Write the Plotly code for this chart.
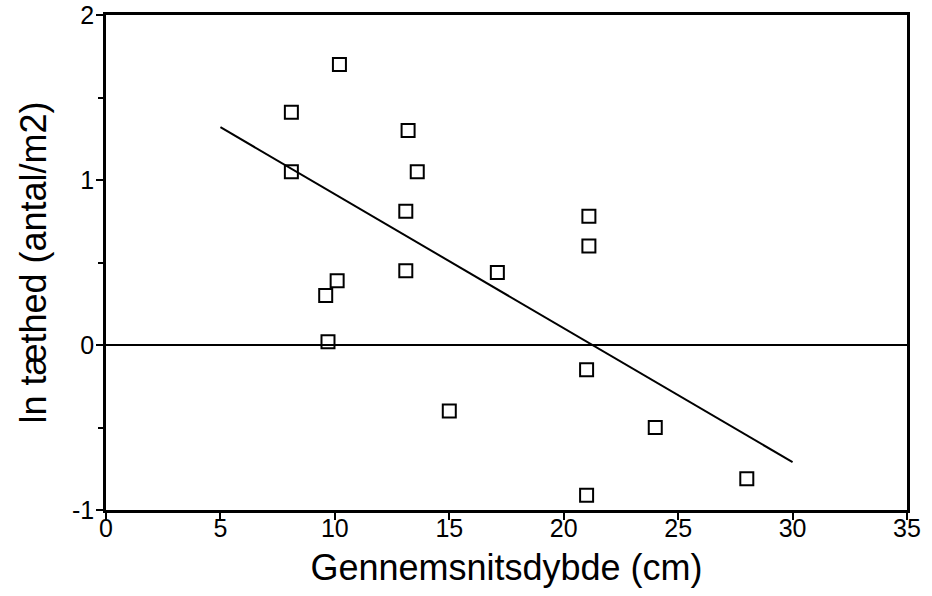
import plotly.graph_objects as go

# Målinger: gennemsnitsdybde (cm) og ln tæthed (antal/m2)
dybde = [10.2, 8.1, 8.1, 13.2, 13.6, 13.1, 13.1, 10.1, 9.6, 9.7,
         17.1, 21.1, 21.1, 21.0, 15.0, 21.0, 24.0, 28.0]
ln_taethed = [1.70, 1.41, 1.05, 1.30, 1.05, 0.81, 0.45, 0.39, 0.30, 0.02,
              0.44, 0.78, 0.60, -0.15, -0.40, -0.91, -0.50, -0.81]

# regressionslinje (endepunkter aflæst)
reg_x = [5, 30]
reg_y = [1.32, -0.71]

x_ticks = [0, 5, 10, 15, 20, 25, 30, 35]
y_ticks = [-1, 0, 1, 2]
y_ticktext = ["-1", "0", "1", "2"]

FONT = "Liberation Sans, Arial, Helvetica, sans-serif"

fig = go.Figure()
fig.add_trace(go.Scatter(
    x=reg_x, y=reg_y,
    mode="lines",
    line=dict(color="black", width=2),
    showlegend=False,
))
fig.add_trace(go.Scatter(
    x=dybde, y=ln_taethed,
    mode="markers",
    marker=dict(symbol="square-open", size=13, color="black",
                line=dict(color="black", width=2)),
    showlegend=False,
))

fig.update_layout(
    width=932, height=596,
    margin=dict(l=106, r=25, t=15, b=86),
    plot_bgcolor="white",
    paper_bgcolor="white",
    font=dict(family=FONT, color="black"),
    xaxis=dict(
        range=[0, 35],
        tickvals=x_ticks,
        ticks="outside", ticklen=7, tickwidth=2, tickcolor="black",
        tickfont=dict(size=25),
        ticklabelstandoff=-13,
        ticklabeloverflow="allow",
        showline=True, linecolor="black", linewidth=2.5, mirror=True,
        showgrid=False, zeroline=False,
        automargin=False,
        title=dict(text="Gennemsnitsdybde (cm)", font=dict(size=36)),
    ),
    yaxis=dict(
        range=[-1, 2],
        tickvals=y_ticks,
        ticktext=y_ticktext,
        ticks="outside", ticklen=7, tickwidth=2, tickcolor="black",
        tickfont=dict(size=25),
        ticklabelstandoff=-3,
        ticklabeloverflow="allow",
        minor=dict(dtick=0.5, ticks="outside", ticklen=5, tickwidth=2,
                   tickcolor="black", showgrid=False),
        showline=True, linecolor="black", linewidth=2.5, mirror=True,
        showgrid=False,
        zeroline=True, zerolinecolor="black", zerolinewidth=2,
        automargin=False,
        title=dict(text="ln tæthed (antal/m2)", font=dict(size=36)),
    ),
)

# fjern sidens standard body-margin, så figuren står i hjørnet
fig.write_html("out.html", config={"displayModeBar": False},
               post_script="document.body.style.margin = '0';")
